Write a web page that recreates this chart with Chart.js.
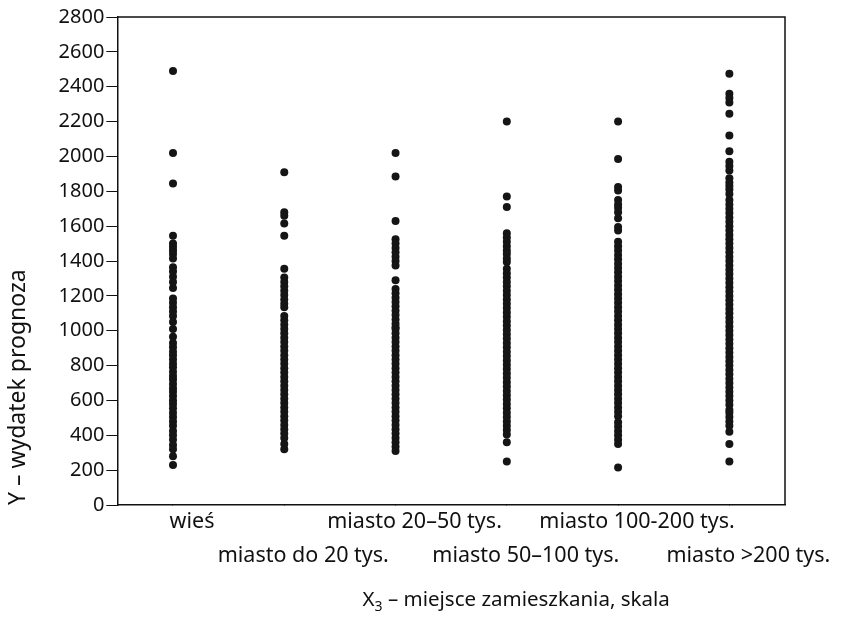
<!DOCTYPE html>
<html>
<head>
<meta charset="utf-8">
<script src="https://cdn.jsdelivr.net/npm/chart.js@4"></script>
<style>
  html, body { margin: 0; padding: 0; background: #fff; }
  #wrap { width: 857px; height: 620px; }
</style>
</head>
<body>
<div id="wrap"><canvas id="chart" width="857" height="620"></canvas></div>
<script>
// ── Data ────────────────────────────────────────────────────────────────────
var categories = ['wieś', 'miasto do 20 tys.', 'miasto 20–50 tys.', 'miasto 50–100 tys.', 'miasto 100-200 tys.', 'miasto >200 tys.'];
var yTicks = [0, 200, 400, 600, 800, 1000, 1200, 1400, 1600, 1800, 2000, 2200, 2400, 2600, 2800];

var wies = [2490, 2020, 1845, 1545, 1500, 1480, 1460, 1440, 1415, 1365, 1340, 1310, 1280, 1245, 1185, 1160, 1135, 1110, 1085, 1050, 1010, 965, 930, 905, 880, 860, 835, 810, 790, 765, 740, 720, 695, 670, 650, 625, 600, 580, 555, 530, 505, 480, 455, 425, 400, 375, 345, 320, 280, 230];
var miastoDo20 = [1910, 1680, 1660, 1615, 1545, 1355, 1305, 1280, 1255, 1230, 1205, 1180, 1155, 1135, 1085, 1060, 1035, 1010, 985, 960, 935, 910, 885, 860, 835, 810, 785, 760, 735, 710, 685, 660, 635, 610, 585, 560, 535, 510, 485, 460, 435, 410, 385, 350, 320];
var miasto20_50 = [2020, 1885, 1630, 1525, 1500, 1475, 1450, 1425, 1400, 1375, 1290, 1240, 1215, 1190, 1165, 1140, 1115, 1090, 1065, 1040, 1020, 1010, 985, 960, 935, 910, 885, 860, 835, 810, 785, 760, 735, 710, 685, 660, 635, 610, 585, 560, 535, 510, 485, 460, 435, 410, 385, 360, 335, 310];
var miasto50_100 = [2200, 1770, 1710, 1560, 1535, 1510, 1485, 1460, 1440, 1415, 1395, 1355, 1330, 1305, 1280, 1255, 1230, 1205, 1180, 1155, 1130, 1105, 1080, 1055, 1030, 1005, 980, 955, 930, 905, 880, 855, 830, 805, 780, 755, 730, 705, 680, 655, 630, 605, 580, 555, 530, 505, 480, 455, 430, 405, 360, 250];
var miasto100_200 = [2200, 1985, 1825, 1805, 1750, 1725, 1705, 1680, 1645, 1595, 1575, 1510, 1485, 1460, 1435, 1410, 1385, 1360, 1335, 1310, 1285, 1260, 1235, 1210, 1185, 1160, 1135, 1110, 1085, 1060, 1035, 1010, 985, 960, 935, 910, 885, 860, 835, 810, 785, 760, 735, 710, 685, 660, 635, 610, 585, 560, 535, 510, 475, 450, 425, 400, 375, 350, 215];
var miasto200 = [2475, 2360, 2335, 2310, 2245, 2120, 2030, 1970, 1945, 1920, 1875, 1850, 1830, 1810, 1785, 1750, 1725, 1700, 1675, 1650, 1625, 1600, 1575, 1550, 1525, 1500, 1475, 1450, 1425, 1400, 1375, 1350, 1325, 1300, 1275, 1250, 1225, 1200, 1175, 1150, 1125, 1100, 1075, 1050, 1025, 1000, 975, 950, 925, 900, 875, 850, 825, 800, 775, 750, 725, 700, 675, 650, 625, 600, 575, 545, 530, 505, 480, 455, 420, 350, 250];

var series = [wies, miastoDo20, miasto20_50, miasto50_100, miasto100_200, miasto200];

// ── Chart ───────────────────────────────────────────────────────────────────
Chart.defaults.font.family = "'Noto Sans', sans-serif";
Chart.defaults.color = '#111';

var datasets = series.map(function(vals, i) {
    return {
        label: categories[i],
        data: vals.map(function(v) { return { x: i + 1, y: v }; }),
        pointRadius: 4,
        pointBackgroundColor: '#151515',
        pointBorderWidth: 0
    };
});

// frame (top/right) + x axis title with subscript
var framePlugin = {
    id: 'frame',
    afterDraw: function(chart) {
        var ctx = chart.ctx, a = chart.chartArea;
        ctx.save();
        ctx.strokeStyle = '#111';
        ctx.lineWidth = 1.5;
        ctx.beginPath();
        ctx.moveTo(a.left, a.top);
        ctx.lineTo(a.right, a.top);
        ctx.lineTo(a.right, a.bottom);
        ctx.stroke();

        // X₃ – miejsce zamieszkania, skala
        var rest = ' – miejsce zamieszkania, skala';
        ctx.fillStyle = '#111';
        ctx.textBaseline = 'alphabetic';
        ctx.font = "20.5px 'Noto Sans', sans-serif";
        var wX = ctx.measureText('X').width;
        var wR = ctx.measureText(rest).width;
        ctx.font = "14px 'Noto Sans', sans-serif";
        var w3 = ctx.measureText('3').width;
        var total = wX + w3 + wR;
        var x0 = a.left + (a.right - a.left) / 2 + 65 - total / 2;
        var y0 = a.bottom + 101;
        ctx.font = "20.5px 'Noto Sans', sans-serif";
        ctx.fillText('X', x0, y0);
        ctx.font = "14px 'Noto Sans', sans-serif";
        ctx.fillText('3', x0 + wX, y0 + 5);
        ctx.font = "20.5px 'Noto Sans', sans-serif";
        ctx.fillText(rest, x0 + wX + w3, y0);
        ctx.restore();
    }
};

new Chart(document.getElementById('chart'), {
    type: 'scatter',
    data: { datasets: datasets },
    plugins: [framePlugin],
    options: {
        responsive: false,
        animation: false,
        layout: { padding: { left: 3, right: 72, top: 17, bottom: 47 } },
        plugins: { legend: { display: false }, tooltip: { enabled: false } },
        scales: {
            x: {
                type: 'linear',
                min: 0.5,
                max: 6.5,
                afterBuildTicks: function(scale) {
                    scale.ticks = categories.map(function(c, i) { return { value: i + 1 }; });
                },
                ticks: {
                    autoSkip: false,
                    maxRotation: 0,
                    minRotation: 0,
                    labelOffset: 19,
                    padding: 0,
                    font: { size: 21.5, lineHeight: 1.58 },
                    callback: function(value) {
                        var i = Math.round(value) - 1;
                        return i % 2 === 0 ? [categories[i], ''] : ['', categories[i]];
                    }
                },
                grid: { drawOnChartArea: false, tickLength: 0, color: '#111' },
                border: { color: '#111', width: 1.5 }
            },
            y: {
                min: 0,
                max: 2800,
                afterBuildTicks: function(scale) {
                    scale.ticks = yTicks.map(function(v) { return { value: v }; });
                },
                ticks: {
                    padding: 2,
                    font: { size: 20 },
                    callback: function(value) { return String(value); }
                },
                grid: { drawOnChartArea: false, tickLength: 11, color: '#111' },
                border: { color: '#111', width: 1.5 },
                title: {
                    display: true,
                    text: 'Y – wydatek prognoza',
                    align: 'start',
                    font: { size: 23 },
                    padding: { top: 2, bottom: 24 }
                }
            }
        }
    }
});
</script>
</body>
</html>
